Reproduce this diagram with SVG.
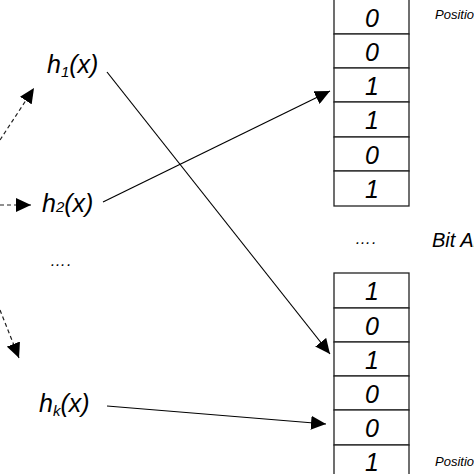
<svg xmlns="http://www.w3.org/2000/svg" width="474" height="474" viewBox="0 0 474 474">
<style>
text{font-family:"Liberation Sans",Arial,sans-serif;font-style:italic;fill:#000}
.d{font-size:25px;text-anchor:middle}
.h{font-size:25px}
.sub{font-size:15px}
.cell{fill:#fff;stroke:#222;stroke-width:1.3}
.con{stroke:#000;stroke-width:1.2;fill:none}
.dash{stroke:#222;stroke-width:1.2;fill:none;stroke-dasharray:4 3}
</style>
<defs>
<marker id="ah" markerUnits="userSpaceOnUse" markerWidth="16" markerHeight="14" refX="15" refY="7" orient="auto">
<path d="M0,0 L15,7 L0,14 Z" fill="#000"/>
</marker>
</defs>
<rect width="474" height="474" fill="#fff"/>
<g id="array-top">
<rect class="cell" x="334" y="-1" width="75" height="35"/>
<rect class="cell" x="334" y="34" width="75" height="34"/>
<rect class="cell" x="334" y="68" width="75" height="34"/>
<rect class="cell" x="334" y="102" width="75" height="35"/>
<rect class="cell" x="334" y="137" width="75" height="34"/>
<rect class="cell" x="334" y="171" width="75" height="35"/>
<text class="d" x="372" y="27">0</text>
<text class="d" x="372" y="61">0</text>
<text class="d" x="372" y="95">1</text>
<text class="d" x="372" y="129">1</text>
<text class="d" x="372" y="164">0</text>
<text class="d" x="372" y="198">1</text>
</g>
<g id="array-bottom">
<rect class="cell" x="334" y="273" width="75" height="35"/>
<rect class="cell" x="334" y="308" width="75" height="34"/>
<rect class="cell" x="334" y="342" width="75" height="34"/>
<rect class="cell" x="334" y="376" width="75" height="34"/>
<rect class="cell" x="334" y="410" width="75" height="35"/>
<rect class="cell" x="334" y="445" width="75" height="35"/>
<text class="d" x="372" y="300">1</text>
<text class="d" x="372" y="335">0</text>
<text class="d" x="372" y="369">1</text>
<text class="d" x="372" y="403">0</text>
<text class="d" x="372" y="437">0</text>
<text class="d" x="372" y="471">1</text>
</g>
<g id="labels">
<text x="435" y="19" style="font-size:13px">Position</text>
<text x="435" y="466" style="font-size:13px">Position</text>
<text x="432" y="247" style="font-size:20px">Bit Array</text>
<text x="355" y="244" style="font-size:16px;letter-spacing:1px">….</text>
<text x="50" y="266" style="font-size:16px;letter-spacing:1px">….</text>
</g>
<g id="h1"><text class="h" x="47" y="73">h<tspan class="sub" dy="4">1</tspan><tspan dy="-4">(x)</tspan></text></g>
<g id="h2"><text class="h" x="42" y="212">h<tspan class="sub">2</tspan>(x)</text></g>
<g id="hk"><text class="h" x="39" y="412">h<tspan class="sub" dy="4">k</tspan><tspan dy="-4">(x)</tspan></text></g>
<g id="connectors">
<line class="con" x1="107" y1="72" x2="330" y2="354" marker-end="url(#ah)"/>
<line class="con" x1="103" y1="202" x2="330" y2="91" marker-end="url(#ah)"/>
<line class="con" x1="107" y1="406" x2="326" y2="424" marker-end="url(#ah)"/>
<line class="dash" x1="0" y1="140" x2="34" y2="88" marker-end="url(#ah)"/>
<line class="dash" x1="0" y1="205" x2="31" y2="205" marker-end="url(#ah)"/>
<line class="dash" x1="0" y1="310" x2="19" y2="358" marker-end="url(#ah)"/>
</g>
</svg>
